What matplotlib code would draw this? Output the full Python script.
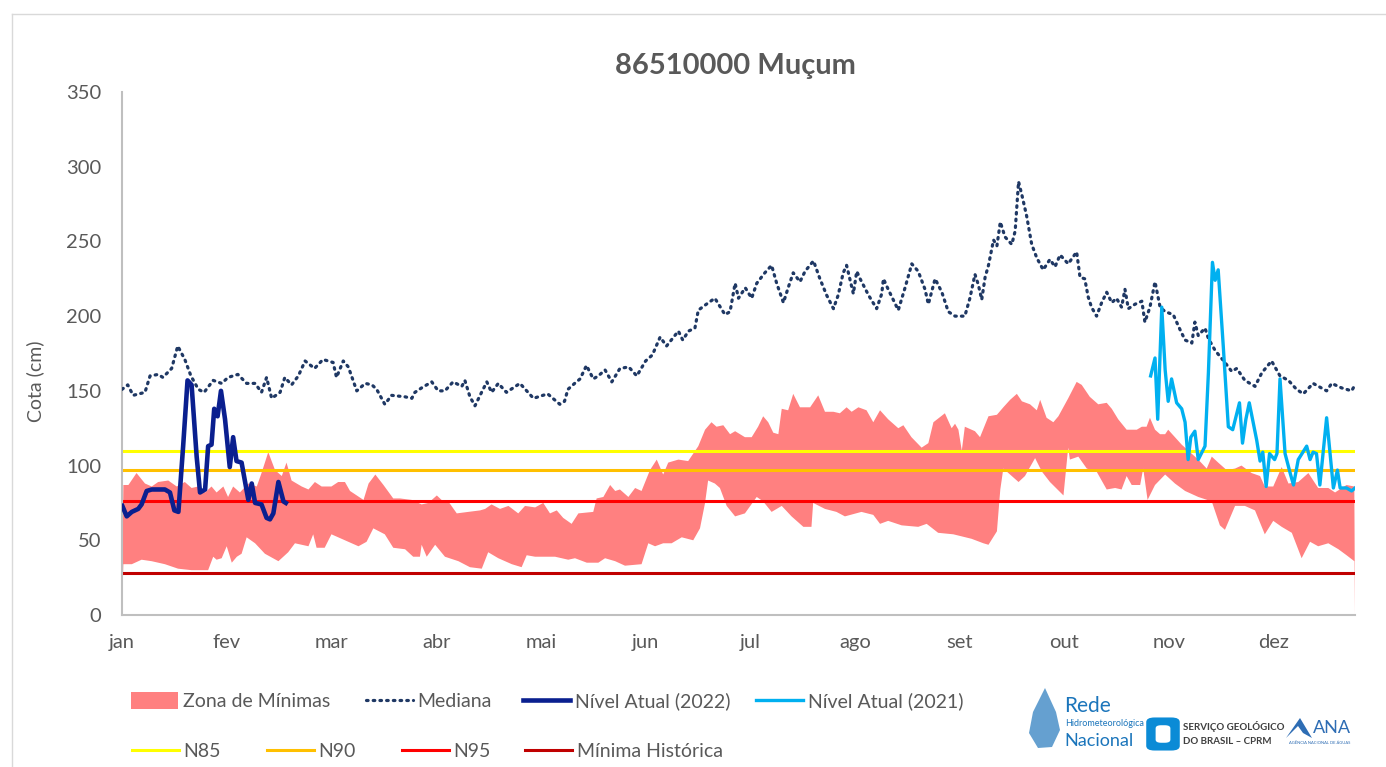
import numpy as np
import matplotlib
matplotlib.use("Agg")
import matplotlib.pyplot as plt
from matplotlib.lines import Line2D
from matplotlib.patches import Patch, Polygon, FancyBboxPatch

plt.rcParams['font.family'] = ['Lato', 'DejaVu Sans']

# ---------------- data ----------------
months = ["jan", "fev", "mar", "abr", "mai", "jun", "jul", "ago", "set", "out", "nov", "dez"]
month_days = [0, 31, 62, 93, 124, 155, 186, 217, 248, 279, 310, 341]

N85 = 110
N90 = 97
N95 = 76
MIN_HIST = 28

median_days = [0, 1.7, 3.3, 6.8, 8.3, 10.7, 12.1, 14.7, 16.5, 18.6, 20.4, 22.6, 24.3, 27, 29.5, 31.4,
               34.3, 36.9, 39.4, 41.3, 42.8, 44.3, 46.8, 48.2, 50.2, 52.2, 54.2, 57, 59.5, 62.5, 63.5,
               65.5, 67, 69.5, 72, 74, 75.4, 77.8, 79.8, 83.8, 85.8, 86.7, 88.7, 91.7, 93.6, 95.6, 98,
               100.6, 101.5, 103, 104.5, 106, 108, 109.4, 111.4, 113.8, 117.8, 121.8, 126, 129.6, 131,
               132, 134, 135.6, 137.5, 139.5, 141, 143, 145, 147.4, 150, 152.4, 155, 157, 159.3, 161.2,
               164.7, 166, 167.7, 169.6, 170.6, 173, 175.5, 178.5, 180, 181.5, 182.5, 184.5, 186.4,
               187.9, 190.3, 192.3, 193.8, 195.8, 197.2, 198.7, 200.7, 202.2, 204.7, 206.6, 208.6,
               210.6, 212, 213.5, 214.5, 216.5, 217.5, 218.5, 221, 223.4, 224.9, 225.4, 226.8, 229.8,
               231.8, 233.8, 235.7, 237.7, 238.7, 240.7, 242.7, 244.6, 246.6, 249.5, 251, 252.5,
               253.5, 254.5, 255.5, 256.5, 258, 259, 260, 261.4, 263.4, 264.4, 265.4, 266.4, 267.8,
               269.3, 270.8, 272.7, 274.7, 276.2, 277.7, 280.1, 282.6, 283.6, 285, 286, 287, 288.5,
               290, 291.5, 293, 294.4, 295.9, 296.9, 297.9, 299.9, 301.9, 302.8, 304.3, 305.8, 307.3,
               308.8, 311.2, 313.2, 314.7, 316.7, 317.6, 318.6, 320.6, 321.6, 323.6, 326.5, 328.5,
               330, 332.4, 335.4, 337.4, 340.3, 342.8, 345.3, 347.7, 349.7, 352.6, 356.6, 358.1, 361,
               364, 365]
median_vals = [151, 154, 147, 149, 160, 161, 159, 165, 180, 171, 160, 151, 149, 157, 155, 159,
               161, 155, 155, 149, 159, 145, 149, 159, 154, 160, 170, 165, 171, 169, 159,
               170, 166, 150, 155, 154, 151, 141, 147, 146, 145, 149, 152, 156, 150, 150, 156,
               153, 157, 146, 140, 147, 156, 149, 155, 149, 155, 145, 148, 141, 143,
               151, 155, 158, 167, 158, 160, 164, 156, 165, 166, 160, 170, 174, 186, 180,
               190, 184, 190, 192, 204, 208, 212, 201, 203, 222, 212, 219, 212,
               222, 229, 234, 222, 209, 219, 229, 223, 230, 237, 225, 214,
               205, 214, 229, 234, 215, 230, 225, 214, 205, 215, 225, 218, 204,
               219, 235, 230, 218, 208, 225, 216, 203, 200, 200, 212, 228,
               221, 211, 226, 234, 251, 247, 263, 253, 248, 257, 290, 281, 267,
               248, 239, 231, 238, 233, 241, 235, 243, 226, 225, 213, 206, 200,
               209, 216, 209, 212, 206, 218, 205, 208, 210, 196, 206, 223, 206,
               203, 201, 191, 184, 182, 196, 187, 192, 185, 177, 169, 163,
               165, 157, 153, 162, 170, 160, 157, 151, 148, 155, 150, 155, 152,
               150, 154]

zone_up_days = [0, 0.4, 1.9, 4.3, 6.8, 8.8, 10.7, 13.7, 16.2, 18.6, 20.6, 22.6, 24.6, 26.5, 28, 30,
                31.4, 32.9, 34.9, 37.4, 39.9, 41.3, 43.3, 45.3, 47.3, 48.7, 50.2, 53.2, 55.2, 57.1,
                59.1, 62, 64, 66, 67.5, 71.5, 73, 75, 77.4, 80.3, 82.3, 85.8, 88.7, 90.7, 93.2, 94.6,
                96.6, 99.1, 102.5, 106, 107.5, 109.4, 111.9, 114.4, 117.3, 119.3, 122.3, 124.7, 126.7,
                128.7, 130.6, 133.1, 135.1, 139.5, 140.5, 142.5, 144.5, 146, 147.4, 149.9, 151.9,
                153.8, 156.3, 158.3, 160.2, 161.7, 164.7, 167.6, 170.6, 172.6, 174.5, 176, 178, 180,
                181.5, 184.4, 186.4, 188.3, 189.8, 191.3, 192.8, 194.3, 195.3, 197.2, 198.7, 200.7,
                203.7, 206.1, 208.1, 210.6, 212.5, 214.5, 216, 218, 220.4, 222.4, 224.4, 226.8,
                229.8, 231.3, 233.7, 236.7, 238.7, 240.2, 243.6, 245.6, 246.6, 247.6, 248.6, 249.5,
                252.5, 254, 256.5, 259, 260.9, 262.9, 264.9, 266.4, 268.8, 270.8, 271.8, 273.7,
                275.7, 277.2, 280.1, 282.6, 284.1, 286.5, 289, 291.5, 293, 294.9, 297.4, 300.4,
                301.9, 303.3, 304.3, 305.8, 307.3, 308.8, 309.7, 313.7, 318.6, 321.1, 322.6, 324.5,
                327, 329.5, 331.4, 334.4, 336.9, 338.3, 340.8, 343.3, 345.3, 348.2, 351.2, 354.1,
                357.1, 359.1, 362.5, 364.8, 365]
zone_up_vals = [0, 87, 87, 95, 88, 86, 89, 90, 86, 89, 85, 86, 82, 86, 82, 86,
                79, 86, 82, 88, 86, 95, 109, 97, 93, 102, 90, 86, 84, 89,
                86, 86, 89, 89, 83, 77, 88, 94, 87, 78, 78, 77, 74, 75, 80, 77,
                76, 68, 69, 70, 71, 74, 71, 73, 68, 73, 72, 75, 68,
                70, 65, 61, 68, 69, 78, 79, 87, 83, 84, 79, 85,
                83, 97, 104, 94, 102, 104, 103, 113, 124, 129, 126, 127, 121,
                123, 119, 119, 126, 133, 129, 122, 121, 138, 137, 148, 139,
                139, 147, 136, 136, 135, 139, 136, 139, 137, 129, 137, 131,
                125, 127, 119, 112, 115, 129, 135, 125, 128, 124, 110, 126,
                123, 119, 133, 134, 139, 144, 148, 143, 141, 137, 144, 132,
                129, 133, 145, 156, 154, 146, 141, 142, 138, 131, 124, 124,
                126, 126, 132, 124, 121, 121, 124, 114, 104, 98, 106, 102,
                97, 98, 100, 95, 93, 86, 86, 99, 88, 89, 95, 85,
                85, 82, 87, 86, 0]

zone_lo_days = [0, 0.4, 2.9, 5.8, 8.8, 12.7, 16.6, 20.6, 25.5, 27, 28, 29.5, 31, 32.5, 34, 35.4,
                36.9, 39.4, 42.3, 46.3, 49.2, 51.2, 55.2, 56.6, 57.6, 60, 62, 65, 70, 72.4, 74.4,
                77.8, 80.3, 83.8, 86.2, 88.2, 88.7, 90.2, 92.7, 95.6, 99.6, 103, 106.5, 108.4,
                111.4, 115.4, 118.3, 119.8, 122.3, 128.2, 132.1, 134.1, 137.6, 141, 143, 146, 148.9,
                153.8, 155.8, 157.8, 160.2, 162.7, 165.7, 169.1, 171.1, 172.6, 173.5, 175.5, 177,
                179, 181.5, 184.4, 187.9, 189.8, 192.3, 195.3, 198.2, 201.7, 204.1, 204.6, 208.1,
                211.5, 214, 218.9, 222.4, 224.4, 226.8, 230.8, 235.7, 238.2, 241.6, 246.1, 251.5,
                255, 256.5, 259, 260, 260.9, 262.4, 265.4, 267.3, 270.3, 272.3, 274.7, 278.7,
                280.1, 280.6, 283.1, 285.6, 288.5, 291.5, 294, 295.9, 297.4, 298.9, 301.4, 302.3,
                303.6, 305.8, 308.8, 311.7, 314.7, 318.6, 322.6, 325, 326.5, 329.5, 332.4, 335.4,
                338.3, 340.8, 343.3, 346.3, 349.2, 351.7, 354.1, 357.1, 360.1, 362.5, 364.8, 365]
zone_lo_vals = [0, 34, 34, 37, 36, 34, 31, 30, 30, 39, 37, 38, 46, 35, 39, 41,
                52, 48, 41, 36, 42, 48, 46, 54, 45, 45, 54, 51, 46, 49, 58,
                54, 45, 44, 39, 39, 47, 39, 47, 39, 36, 32, 31, 42,
                38, 34, 32, 40, 39, 39, 37, 38, 35, 35, 38, 36, 33,
                34, 48, 46, 48, 48, 52, 50, 58, 75, 90, 88, 85,
                73, 66, 68, 79, 76, 69, 73, 66, 59, 59, 75, 71,
                69, 66, 69, 67, 61, 63, 60, 59, 61, 55, 54, 51,
                48, 47, 56, 84, 98, 95, 89, 93, 105, 96, 89, 80,
                112, 104, 106, 98, 96, 84, 85, 84, 93, 87, 87, 98,
                77, 87, 94, 88, 83, 79, 76, 60, 57, 73, 73, 70,
                54, 63, 59, 55, 38, 49, 46, 48, 44, 40, 36, 0]

n2022_days = [0.1, 1.4, 2.9, 4.8, 5.8, 7.3, 8.8, 12.7, 14.2, 15.5, 16.7, 18.1, 19.4, 20.6, 22.1,
              23.1, 24.6, 25.5, 26.5, 27.3, 28.3, 29.3, 30.5, 31.9, 32.9, 33.9, 35.4, 37.4, 38.4,
              39.4, 41.3, 42.8, 43.8, 44.8, 46.3, 47.8, 48.5]
n2022_vals = [73, 66, 69, 71, 74, 83, 84, 84, 82, 70, 69, 113, 157, 154, 106,
              82, 84, 113, 114, 138, 133, 150, 131, 99, 119, 103, 102, 77, 88,
              75, 74, 65, 64, 68, 89, 76, 75]

n2021_days = [304.5, 305.8, 306.6, 307.8, 308.8, 309.7, 310.7, 312.2, 313.7, 314.7, 315.6, 316.4,
              317.6, 318.6, 320.6, 321.6, 322.8, 323.6, 324.5, 326, 327.5, 328.8, 330.8, 331.7,
              332.7, 333.7, 335.9, 336.9, 337.7, 338.7, 339.7, 341.2, 341.9, 342.8, 344.3, 345.8,
              346.8, 348.2, 350.7, 351.7, 352.6, 353.6, 354.6, 356.6, 358.6, 359.8, 360.6, 362.5,
              364, 365]
n2021_vals = [160, 172, 131, 206, 164, 143, 158, 142, 138, 129, 104, 119,
              123, 104, 113, 162, 236, 224, 231, 180, 126, 124, 142, 115,
              131, 142, 117, 103, 109, 86, 108, 104, 108, 158, 108, 95,
              87, 104, 113, 104, 109, 108, 87, 132, 85, 97, 85, 85,
              83, 85]

# ---------------- layout ----------------
W, H = 1386, 767
fig = plt.figure(figsize=(W / 100, H / 100), dpi=100)
fig.patch.set_facecolor("white")

# outer chart border
fig.add_artist(Line2D([12 / W, 12 / W], [0, 1 - 14 / H], color="#D9D9D9", lw=1))
fig.add_artist(Line2D([12 / W, 1], [1 - 14 / H, 1 - 14 / H], color="#D9D9D9", lw=1))

ax = fig.add_axes([122 / W, (H - 615) / H, (1355 - 122) / W, (615 - 92) / H])
ax.set_xlim(0, 365)
ax.set_ylim(0, 350)

txt = "#595959"
zone_color = "#FF8080"

# minimum zone (polygon between upper and lower bounds)
poly_x = np.concatenate([zone_up_days, zone_lo_days[::-1]])
poly_y = np.concatenate([zone_up_vals, zone_lo_vals[::-1]])
ax.fill(poly_x, poly_y, color=zone_color, lw=0, zorder=1)

# reference levels
ax.axhline(N85, color="#FFFF00", lw=2.2, zorder=2)
ax.axhline(N90, color="#FFC000", lw=2.2, zorder=2)
ax.axhline(N95, color="#FF0000", lw=2.2, zorder=2)
ax.axhline(MIN_HIST, color="#C00000", lw=2.2, zorder=2)

# median
med_style = dict(color="#1F3864", lw=2.3, linestyle=(0, (0.5, 1.6)), dash_capstyle="round")
ax.plot(median_days, median_vals, zorder=3, **med_style)

# current levels
c2021 = "#00B0F0"
c2022 = "#0A1F8F"
ax.plot(n2021_days, n2021_vals, color=c2021, lw=2.4, zorder=4, solid_joinstyle="round")
ax.plot(n2022_days, n2022_vals, color=c2022, lw=3.3, zorder=5, solid_joinstyle="round")

# axes styling
for s in ["top", "right"]:
    ax.spines[s].set_visible(False)
ax.spines["left"].set_color("#BFBFBF")
ax.spines["bottom"].set_color("#BFBFBF")
ax.spines["left"].set_linewidth(1.5)
ax.spines["bottom"].set_linewidth(1.5)
ax.set_yticks(range(0, 351, 50))
ax.set_xticks(month_days)
ax.set_xticklabels(months)
ax.tick_params(axis="both", length=0, labelsize=14.5, labelcolor=txt)
ax.tick_params(axis="y", pad=15)
ax.tick_params(axis="x", pad=14)

fig.text(35 / W, 1 - 381 / H, "Cota (cm)", rotation=90, ha="center", va="center",
         fontsize=14, color=txt)
fig.text(735 / W, 1 - 66 / H, "86510000 Muçum", ha="center", va="center",
         fontsize=21, fontweight="bold", color=txt)

# ---------------- legend ----------------
handles = [
    (Patch(facecolor=zone_color, edgecolor="none"), "Zona de Mínimas", 131, 701),
    (Line2D([], [], **med_style), "Mediana", 366, 701),
    (Line2D([], [], color=c2022, lw=3.3), "Nível Atual (2022)", 523, 701),
    (Line2D([], [], color=c2021, lw=2.4), "Nível Atual (2021)", 756, 701),
    (Line2D([], [], color="#FFFF00", lw=2.2), "N85", 132, 751),
    (Line2D([], [], color="#FFC000", lw=2.2), "N90", 267, 751),
    (Line2D([], [], color="#FF0000", lw=2.2), "N95", 402, 751),
    (Line2D([], [], color="#C00000", lw=2.2), "Mínima Histórica", 525, 751),
]
for h, lab, px, py in handles:
    fig.legend([h], [lab], loc="center left", bbox_to_anchor=(px / W, 1 - py / H),
               frameon=False, fontsize=14, labelcolor=txt, handlelength=2.4,
               handleheight=1.0, handletextpad=0.25, borderpad=0, borderaxespad=0)

# ---------------- logos (approximation) ----------------
blue = "#1B75BB"
drop = Polygon([(1045 / W, 1 - 688 / H), (1056 / W, 1 - 712 / H), (1060 / W, 1 - 730 / H),
                (1052 / W, 1 - 747 / H), (1038 / W, 1 - 748 / H), (1029 / W, 1 - 733 / H),
                (1033 / W, 1 - 712 / H)], closed=True, transform=fig.transFigure,
               facecolor="#4A90C8", edgecolor="none", alpha=0.85)
fig.add_artist(drop)
fig.text(1064 / W, 1 - 706 / H, "Rede", fontsize=15, color=blue, va="center", ha="left")
fig.text(1065 / W, 1 - 724 / H, "Hidrometeorológica", fontsize=6.5, color=blue, va="center", ha="left")
fig.text(1064 / W, 1 - 741 / H, "Nacional", fontsize=13, color=blue, va="center", ha="left")

sgb = FancyBboxPatch((1149 / W, 1 - 749 / H), 28 / W, 30 / H,
                     boxstyle="round,pad=0.002,rounding_size=0.006",
                     transform=fig.transFigure, facecolor="#0B8BD6", edgecolor="none")
fig.add_artist(sgb)
fig.add_artist(FancyBboxPatch((1157 / W, 1 - 742 / H), 12 / W, 16 / H,
                              boxstyle="round,pad=0.001,rounding_size=0.004",
                              transform=fig.transFigure, facecolor="white", edgecolor="none"))
fig.text(1183 / W, 1 - 726 / H, "SERVIÇO GEOLÓGICO", fontsize=7, fontweight="bold",
         color="#404040", va="center", ha="left")
fig.text(1183 / W, 1 - 742 / H, "DO BRASIL – CPRM", fontsize=7, fontweight="bold",
         color="#404040", va="center", ha="left")

ana_icon = Polygon([(1286 / W, 1 - 738 / H), (1300 / W, 1 - 718 / H), (1312 / W, 1 - 738 / H),
                    (1303 / W, 1 - 733 / H), (1298 / W, 1 - 726 / H)], closed=True,
                   transform=fig.transFigure, facecolor="#2E6DB4", edgecolor="none")
fig.add_artist(ana_icon)
fig.text(1313 / W, 1 - 728 / H, "ANA", fontsize=13, color="#2E6DB4", va="center", ha="left")
fig.text(1320 / W, 1 - 743 / H, "AGÊNCIA NACIONAL DE ÁGUAS", fontsize=3, color="#2E6DB4",
         va="center", ha="center")

fig.savefig("out.png", dpi=100, facecolor="white")
